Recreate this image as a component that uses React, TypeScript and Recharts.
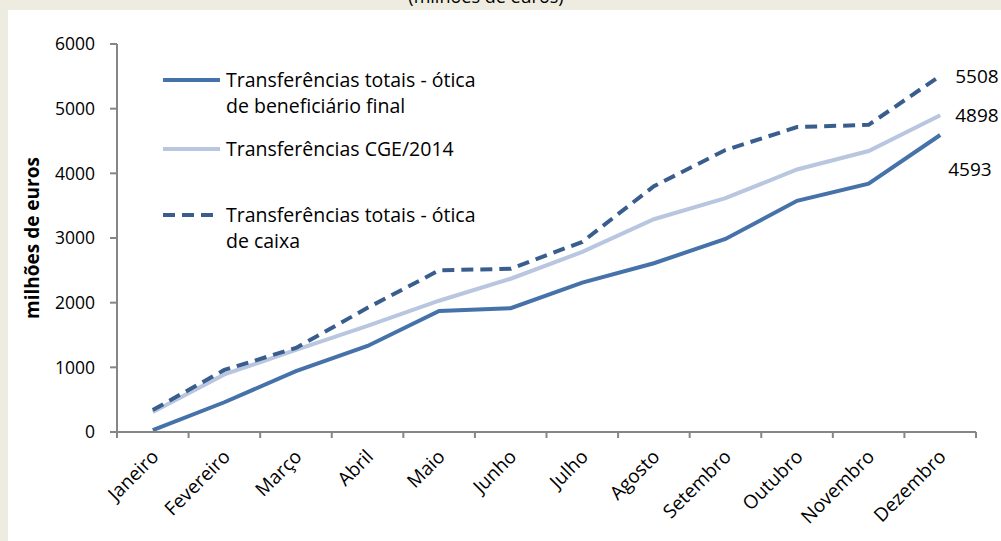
import React from 'react';
import { LineChart, Line, XAxis, YAxis, LabelList } from 'recharts';

const MONTHS = [
  'Janeiro', 'Fevereiro', 'Março', 'Abril', 'Maio', 'Junho',
  'Julho', 'Agosto', 'Setembro', 'Outubro', 'Novembro', 'Dezembro',
];

// milhões de euros, acumulado
const BENEFICIARIO_FINAL = [30, 460, 940, 1330, 1870, 1915, 2310, 2610, 2985, 3575, 3840, 4593];
const CGE_2014 = [310, 890, 1270, 1640, 2030, 2370, 2785, 3290, 3615, 4060, 4345, 4898];
const OTICA_CAIXA = [340, 960, 1300, 1920, 2500, 2525, 2940, 3800, 4360, 4715, 4750, 5508];

const Y_TICKS = [0, 1000, 2000, 3000, 4000, 5000, 6000];

const LEGEND_FINAL = ['Transferências totais - ótica', 'de beneficiário final'];
const LEGEND_CGE = ['Transferências CGE/2014'];
const LEGEND_CAIXA = ['Transferências totais - ótica', 'de caixa'];

const data = MONTHS.map((m, i) => ({
  month: m,
  final: BENEFICIARIO_FINAL[i],
  cge: CGE_2014[i],
  caixa: OTICA_CAIXA[i],
}));

const FONT = '"Open Sans", "Noto Sans", sans-serif';
const AXIS = '#868686';
const C_FINAL = '#4672AA';
const C_CGE = '#B8C6DF';
const C_CAIXA = '#395E8E';
const DASH = '12 7';

const W = 993;
const H = 531;
const MARGIN = { top: 34, right: 25, left: 0, bottom: 9 };
const Y_W = 109;
const BAND = (W - MARGIN.left - MARGIN.right - Y_W) / MONTHS.length;

const MonthTick = (props: any) => {
  const { x, y, payload, index } = props;
  const last = index === MONTHS.length - 1;
  return (
    <g>
      <line x1={x - BAND / 2} y1={y} x2={x - BAND / 2} y2={y + 6} stroke={AXIS} strokeWidth={2} />
      {last && <line x1={x + BAND / 2} y1={y} x2={x + BAND / 2} y2={y + 6} stroke={AXIS} strokeWidth={2} />}
      <text
        x={0}
        y={0}
        transform={`translate(${x + 2},${y + 21}) rotate(-45)`}
        textAnchor="end"
        dominantBaseline="central"
        fontSize={19}
        fontFamily={FONT}
        fill="#000"
      >
        {payload.value}
      </text>
    </g>
  );
};

const endLabel = (dx: number, dy: number) => (props: any) => {
  const { x, y, value, index } = props;
  if (index !== MONTHS.length - 1) return null;
  return (
    <text x={x + dx} y={y + dy} fontSize={19} fontFamily={FONT} fill="#000" dominantBaseline="central">
      {value}
    </text>
  );
};

const LegendItem = ({ top, lines, stroke, dash }: { top: number; lines: string[]; stroke: string; dash?: string }) => (
  <div style={{ position: 'absolute', top, left: 0, width: 360 }}>
    <svg width={62} height={26} style={{ position: 'absolute', left: 0, top: 0 }}>
      <line x1={2} y1={13} x2={59} y2={13} stroke={stroke} strokeWidth={4} strokeDasharray={dash} />
    </svg>
    <div
      style={{
        position: 'absolute', left: 65, top: 0, lineHeight: '26px', fontSize: 19.5,
        fontFamily: FONT, color: '#000', whiteSpace: 'nowrap',
      }}
    >
      {lines.map((l) => (
        <div key={l}>{l}</div>
      ))}
    </div>
  </div>
);

export default function App() {
  return (
    <div style={{ position: 'absolute', left: 0, top: 0, width: 1001, height: 541, background: '#EEECE1', overflow: 'hidden' }}>
      <div
        style={{
          position: 'absolute', top: -16, left: 0, width: 972, textAlign: 'center',
          fontSize: 18, fontFamily: FONT, color: '#000',
        }}
      >
        (milhões de euros)
      </div>
      <div style={{ position: 'absolute', left: 8, top: 10, width: W, height: H, background: '#fff' }}>
        <LineChart width={W} height={H} data={data} margin={MARGIN}>
          <XAxis
            dataKey="month"
            height={100}
            stroke={AXIS}
            strokeWidth={2}
            padding={{ left: BAND / 2, right: BAND / 2 }}
            tickLine={false}
            tickSize={0}
            tickMargin={0}
            interval={0}
            tick={<MonthTick />}
          />
          <YAxis
            width={Y_W}
            domain={[0, 6000]}
            ticks={Y_TICKS}
            stroke={AXIS}
            strokeWidth={2}
            tickSize={7}
            tickMargin={15}
            tick={{ fontSize: 17.5, fontFamily: FONT, fill: '#000' }}
            label={{
              value: 'milhões de euros',
              angle: -90,
              position: 'insideLeft',
              offset: 24,
              style: { textAnchor: 'middle', fontSize: 19, fontWeight: 700, fontFamily: FONT, fill: '#000' },
            }}
          />
          <Line dataKey="final" stroke={C_FINAL} strokeWidth={4} dot={false} isAnimationActive={false}>
            <LabelList dataKey="final" content={endLabel(8, 34)} />
          </Line>
          <Line dataKey="cge" stroke={C_CGE} strokeWidth={4} dot={false} isAnimationActive={false}>
            <LabelList dataKey="cge" content={endLabel(15, 0)} />
          </Line>
          <Line
            dataKey="caixa"
            stroke={C_CAIXA}
            strokeWidth={4}
            strokeDasharray={DASH}
            dot={false}
            isAnimationActive={false}
          >
            <LabelList dataKey="caixa" content={endLabel(15, 0)} />
          </Line>
        </LineChart>
        <div style={{ position: 'absolute', left: 153, top: 57, width: 360, height: 200 }}>
          <LegendItem top={0} lines={LEGEND_FINAL} stroke={C_FINAL} />
          <LegendItem top={69} lines={LEGEND_CGE} stroke={C_CGE} />
          <LegendItem top={135} lines={LEGEND_CAIXA} stroke={C_CAIXA} dash={DASH} />
        </div>
      </div>
    </div>
  );
}
